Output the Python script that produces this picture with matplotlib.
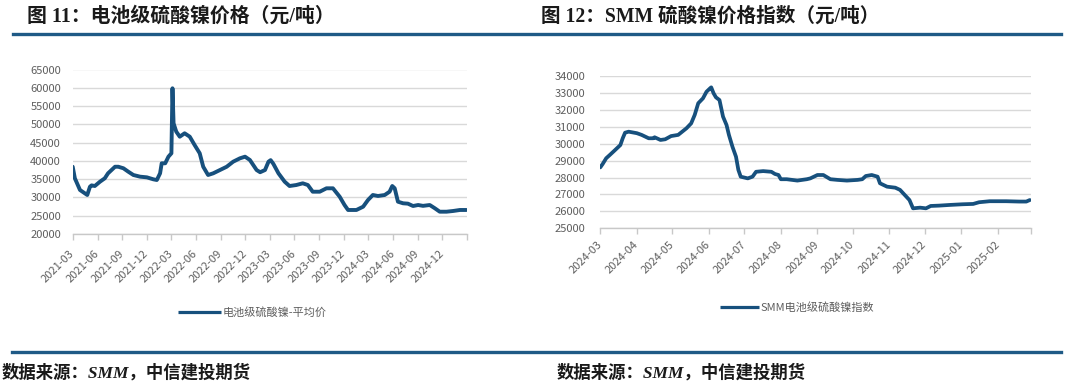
import matplotlib
matplotlib.use("Agg")
import matplotlib.pyplot as plt
from matplotlib.lines import Line2D
from matplotlib.legend_handler import HandlerLine2D
import pandas as pd

plt.rcParams['font.family'] = ['Noto Sans CJK SC', 'DejaVu Sans']
plt.rcParams['axes.unicode_minus'] = False

# ---------------- data ----------------
left_title = '图 11：电池级硫酸镍价格（元/吨）'
right_title = '图 12：SMM 硫酸镍价格指数（元/吨）'
source_text = '数据来源：SMM，中信建投期货'
left_label = '电池级硫酸镍-平均价'
right_label = 'SMM电池级硫酸镍指数'

left_dates = ['2021-03-01', '2021-03-09', '2021-03-28', '2021-04-15', '2021-04-24', '2021-05-04',
              '2021-05-10', '2021-05-22', '2021-06-10', '2021-06-28', '2021-07-10', '2021-07-23',
              '2021-08-05', '2021-08-17', '2021-09-05', '2021-09-23', '2021-10-12', '2021-11-06',
              '2021-12-01', '2021-12-25', '2022-01-07', '2022-01-19', '2022-01-25', '2022-02-07',
              '2022-02-19', '2022-03-02', '2022-03-06', '2022-03-10', '2022-03-20', '2022-04-02',
              '2022-04-20', '2022-05-09', '2022-05-27', '2022-06-15', '2022-06-28', '2022-07-16',
              '2022-08-04', '2022-08-29', '2022-09-23', '2022-10-17', '2022-11-11', '2022-11-30',
              '2022-12-18', '2023-01-12', '2023-01-25', '2023-02-12', '2023-02-25', '2023-03-05',
              '2023-03-15', '2023-04-03', '2023-04-26', '2023-05-14', '2023-06-08', '2023-07-02',
              '2023-07-21', '2023-08-08', '2023-09-03', '2023-09-28', '2023-10-22', '2023-11-16',
              '2023-12-04', '2023-12-17', '2024-01-17', '2024-02-11', '2024-02-29', '2024-03-18',
              '2024-04-06', '2024-05-01', '2024-05-19', '2024-05-29', '2024-06-07', '2024-06-19',
              '2024-07-08', '2024-07-26', '2024-08-14', '2024-09-02', '2024-09-20', '2024-10-15',
              '2024-11-03', '2024-11-21', '2024-12-16', '2025-01-10', '2025-02-04', '2025-02-28']
left_values = [38400, 35240, 32040, 31130, 30670, 32940,
               33300, 33130, 34300, 35240, 36600, 37500,
               38400, 38400, 37980, 37050, 36140, 35680,
               35500, 34960, 34770, 36600, 39340, 39340,
               41150, 42080, 59860, 50290, 48000, 46620,
               47550, 46620, 44350, 42080, 38400, 36140,
               36600, 37500, 38400, 39780, 40700, 41150,
               40250, 37500, 36900, 37500, 39780, 40200,
               39200, 36600, 34310, 33130, 33400, 33870,
               33400, 31570, 31570, 32500, 32500, 30200,
               27930, 26570, 26570, 27470, 29300, 30670,
               30400, 30670, 31570, 33130, 32500, 28840,
               28400, 28300, 27660, 27930, 27700, 27930,
               27030, 26100, 26100, 26300, 26570, 26570]

right_dates = ['2024-03-01', '2024-03-03', '2024-03-06', '2024-03-09', '2024-03-13', '2024-03-18',
               '2024-03-20', '2024-03-22', '2024-03-25', '2024-04-01', '2024-04-05', '2024-04-11',
               '2024-04-15', '2024-04-16', '2024-04-21', '2024-04-25', '2024-04-30', '2024-05-06',
               '2024-05-13', '2024-05-17', '2024-05-20', '2024-05-23', '2024-05-27', '2024-05-30',
               '2024-06-02', '2024-06-03', '2024-06-05', '2024-06-07', '2024-06-10', '2024-06-13',
               '2024-06-16', '2024-06-18', '2024-06-21', '2024-06-24', '2024-06-26', '2024-06-28',
               '2024-07-04', '2024-07-08', '2024-07-11', '2024-07-17', '2024-07-24', '2024-07-27',
               '2024-07-30', '2024-08-01', '2024-08-06', '2024-08-15', '2024-08-23', '2024-08-26',
               '2024-09-01', '2024-09-06', '2024-09-12', '2024-09-18', '2024-09-26', '2024-10-05',
               '2024-10-09', '2024-10-12', '2024-10-17', '2024-10-22', '2024-10-24', '2024-10-30',
               '2024-11-06', '2024-11-10', '2024-11-14', '2024-11-18', '2024-11-21', '2024-11-27',
               '2024-12-02', '2024-12-06', '2024-12-13', '2024-12-22', '2025-01-02', '2025-01-11',
               '2025-01-16', '2025-01-25', '2025-02-08', '2025-02-19', '2025-02-25', '2025-02-28']
right_values = [28600, 28800, 29140, 29330, 29590, 29920,
                30320, 30650, 30710, 30620, 30520, 30320,
                30320, 30380, 30220, 30260, 30450, 30520,
                30910, 31200, 31700, 32390, 32680, 33070,
                33270, 33330, 32980, 32740, 32580, 31600,
                31100, 30520, 29820, 29230, 28450, 28050,
                27950, 28050, 28340, 28380, 28340, 28210,
                28150, 27900, 27900, 27820, 27900, 27950,
                28150, 28150, 27900, 27860, 27820, 27860,
                27900, 28090, 28150, 28050, 27660, 27460,
                27400, 27270, 26970, 26670, 26180, 26220,
                26180, 26320, 26340, 26380, 26420, 26440,
                26540, 26600, 26600, 26580, 26580, 26670]

left_yticks = list(range(20000, 65001, 5000))
right_yticks = list(range(25000, 34001, 1000))

# ---------------- styles ----------------
LINE_C = '#17507D'
BAR_C = '#1F5A86'
GRID_C = '#D9D9D9'
TXT_C = '#5E5E5E'
W, H = 1080, 387

fig = plt.figure(figsize=(W / 100, H / 100), dpi=100)
fig.patch.set_facecolor('white')


def fx(px):
    return px / W


def fy(py):
    return 1 - py / H


axL = fig.add_axes([fx(72.7), fy(234), (466.7 - 72.7) / W, (234 - 69.5) / H])
axR = fig.add_axes([fx(600.3), fy(228.3), (1031 - 600.3) / W, (228.3 - 76) / H])

ld = pd.to_datetime(left_dates)
rd = pd.to_datetime(right_dates)

lnL, = axL.plot(ld, left_values, color=LINE_C, lw=2.8, solid_joinstyle='round',
                solid_capstyle='round', label=left_label)
lnR, = axR.plot(rd, right_values, color=LINE_C, lw=2.7, solid_joinstyle='round',
                solid_capstyle='round', label=right_label)

# x axes
l_ticks = pd.date_range('2021-03-01', '2025-03-01', freq='3MS')
axL.set_xlim(l_ticks[0], l_ticks[-1])
axL.set_xticks(l_ticks)
axL.set_xticklabels([d.strftime('%Y-%m') for d in l_ticks[:-1]] + [''])

r_ticks = pd.date_range('2024-03-01', '2025-03-01', freq='MS')
axR.set_xlim(r_ticks[0], r_ticks[-1])
axR.set_xticks(r_ticks)
axR.set_xticklabels([d.strftime('%Y-%m') for d in r_ticks[:-1]] + [''])

axL.set_ylim(left_yticks[0], left_yticks[-1])
axL.set_yticks(left_yticks)
axR.set_ylim(right_yticks[0], right_yticks[-1])
axR.set_yticks(right_yticks)

for ax, xpad, ypad in ((axL, 9.0, 8.4), (axR, 6.3, 10.8)):
    for s in ('top', 'right', 'left'):
        ax.spines[s].set_visible(False)
    ax.spines['bottom'].set_color('#C8C8C8')
    ax.spines['bottom'].set_linewidth(1.0)
    ax.yaxis.grid(True, color=GRID_C, lw=1.0)
    ax.set_axisbelow(True)
    ax.tick_params(axis='y', length=0, labelsize=8, labelcolor=TXT_C, pad=ypad)
    ax.tick_params(axis='x', direction='out', length=4, width=1.0, color='#C8C8C8',
                   labelsize=8, labelcolor=TXT_C, pad=xpad)
    for lab in ax.get_xticklabels():
        lab.set_rotation(45)
        lab.set_ha('right')
        lab.set_va('center')
        lab.set_rotation_mode('anchor')


def thin_handle(legline, orig):
    legline.update_from(orig)
    legline.set_linewidth(2.3)
    legline.set_solid_capstyle('butt')


hmap = {Line2D: HandlerLine2D(update_func=thin_handle)}

# legends
axL.legend(handles=[lnL], loc='center', bbox_to_anchor=(fx(252.5), fy(312.7)),
           bbox_transform=fig.transFigure, frameon=False, handlelength=3.8,
           handletextpad=0.2, fontsize=8, labelcolor=TXT_C, handler_map=hmap)
axR.legend(handles=[lnR], loc='center', bbox_to_anchor=(fx(797), fy(307.3)),
           bbox_transform=fig.transFigure, frameon=False, handlelength=3.5,
           handletextpad=0.2, fontsize=8, labelcolor=TXT_C, handler_map=hmap)

# titles
title_family = ['Liberation Serif', 'Noto Sans CJK SC']
fig.text(fx(27), fy(16.5), left_title, fontsize=14.3, fontweight='bold', color='#1A1A1A',
         ha='left', va='center', family=title_family)
fig.text(fx(541), fy(16.5), right_title, fontsize=14.1, fontweight='bold', color='#1A1A1A',
         ha='left', va='center', family=title_family)

# separator bars
fig.add_artist(Line2D([fx(13), fx(1061)], [fy(33.5), fy(33.5)], color=BAR_C, lw=2.4))
fig.add_artist(Line2D([fx(12), fx(1061)], [fy(352), fy(352)], color=BAR_C, lw=2.4))

# sources
fig.text(fx(2), fy(373), source_text, fontsize=12.5, fontweight='bold', style='italic',
         color='#1A1A1A', ha='left', va='center', family=title_family)
fig.text(fx(557), fy(373), source_text, fontsize=12.5, fontweight='bold', style='italic',
         color='#1A1A1A', ha='left', va='center', family=title_family)

fig.savefig('out.png', dpi=100, facecolor='white')
